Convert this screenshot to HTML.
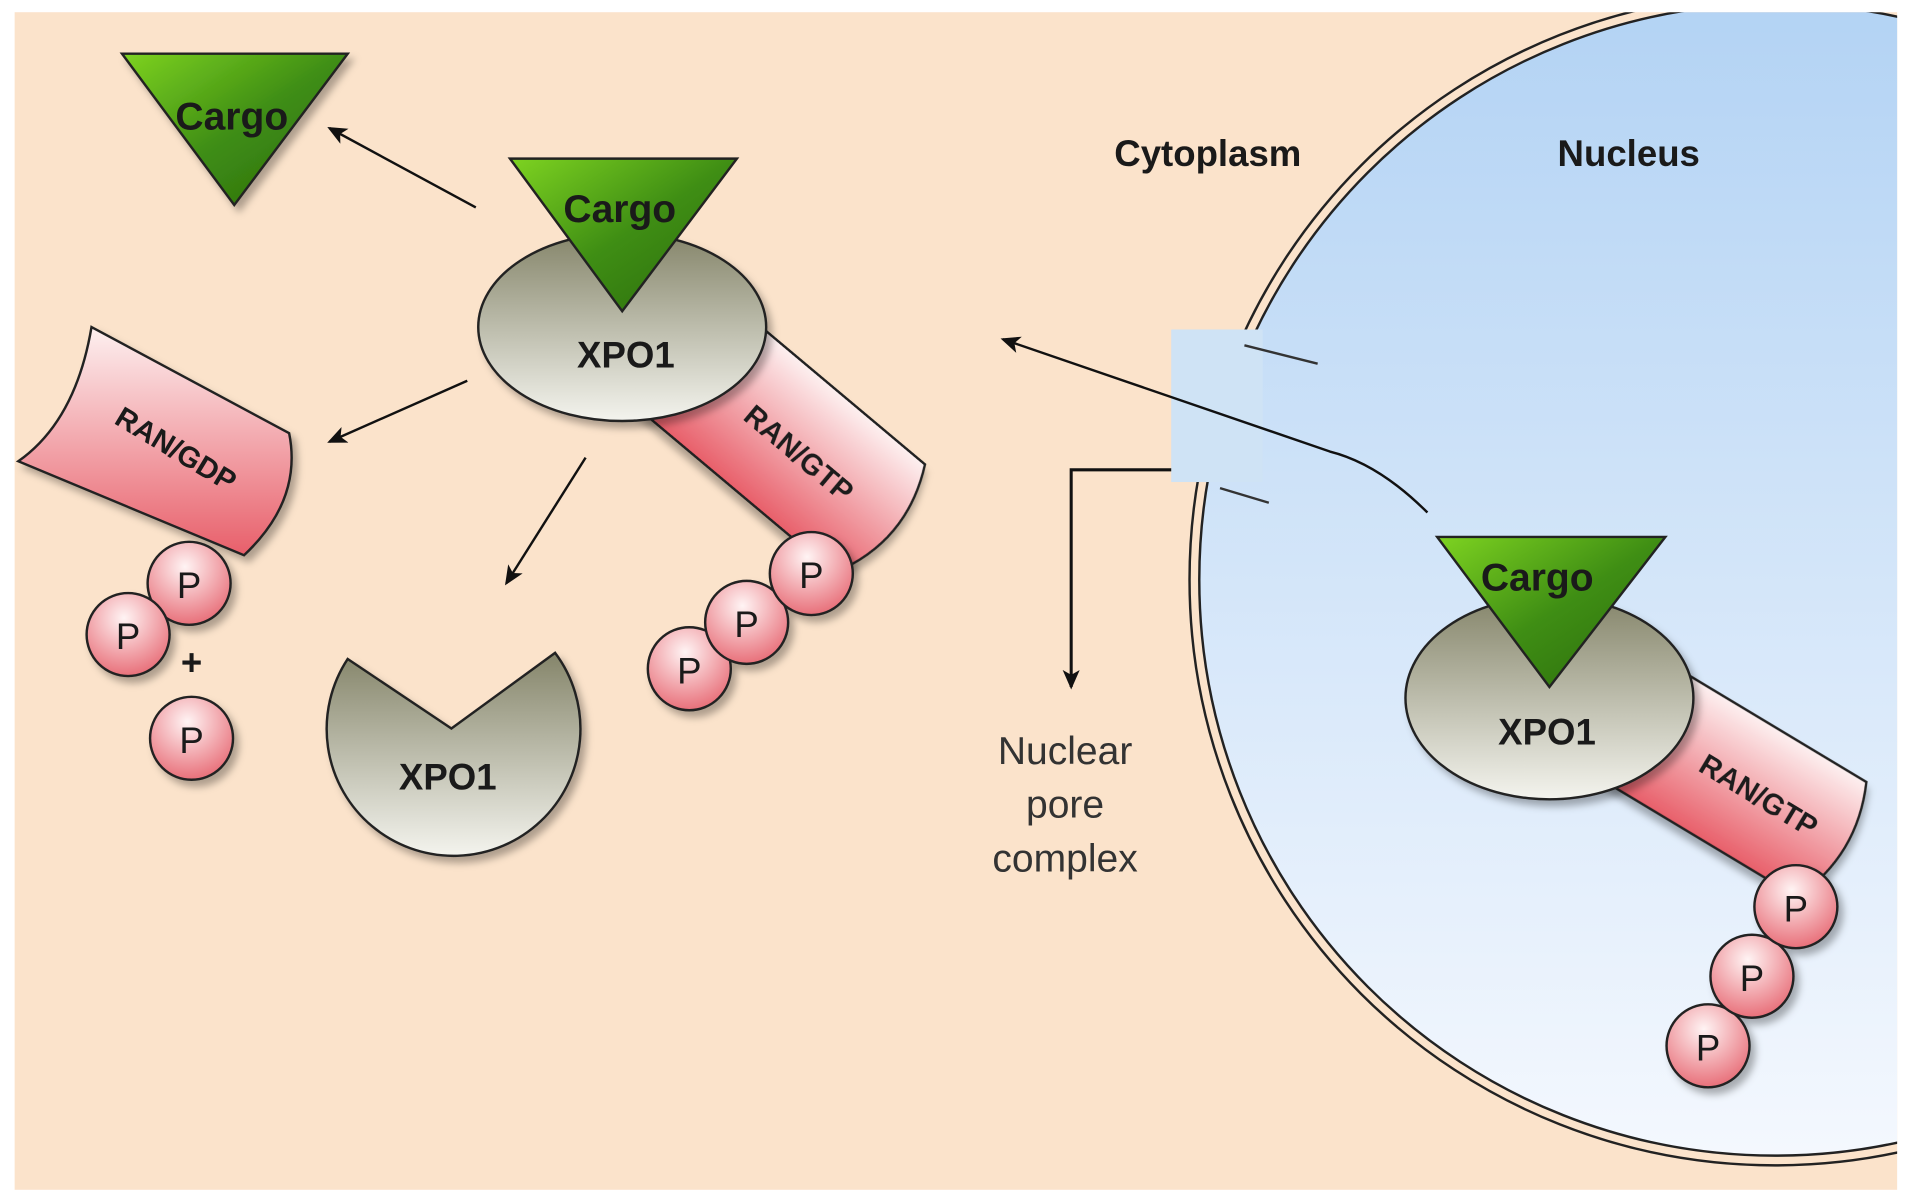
<!DOCTYPE html>
<html><head><meta charset="utf-8"><style>
html,body{margin:0;padding:0;background:#fff;}
svg{display:block;}
text{font-family:"Liberation Sans",sans-serif;font-weight:bold;fill:#1a1a1a;}
</style></head><body>
<svg width="1913" height="1202" viewBox="0 0 1568 985" preserveAspectRatio="none" xmlns="http://www.w3.org/2000/svg">
<defs>
<linearGradient id="grn" x1="0" y1="0" x2="1" y2="1"><stop offset="0" stop-color="#7ed321"/><stop offset="0.5" stop-color="#3f8e14"/><stop offset="1" stop-color="#2a6a0c"/></linearGradient>
<linearGradient id="olv" x1="0" y1="0" x2="0" y2="1"><stop offset="0" stop-color="#85856a"/><stop offset="1" stop-color="#f4f4ee"/></linearGradient>
<linearGradient id="pnk" x1="0" y1="0" x2="0" y2="1"><stop offset="0" stop-color="#fdf0f0"/><stop offset="1" stop-color="#e85f6a"/></linearGradient>
<radialGradient id="pc" cx="0.45" cy="0.3" r="0.7"><stop offset="0" stop-color="#fff4f4"/><stop offset="1" stop-color="#e8707a"/></radialGradient>
<linearGradient id="nuc" x1="0" y1="0" x2="0" y2="1"><stop offset="0" stop-color="#b3d3f4"/><stop offset="1" stop-color="#f4f8fe"/></linearGradient>
<filter id="sh" x="-20%" y="-20%" width="150%" height="150%"><feDropShadow dx="4" dy="5" stdDeviation="3" flood-color="#000" flood-opacity="0.3"/></filter>
<marker id="ar" markerWidth="16" markerHeight="14" refX="14" refY="7" orient="auto" markerUnits="userSpaceOnUse"><path d="M0,0 L16,7 L0,14 L4,7 z" fill="#111"/></marker>
</defs>
<rect x="12" y="10" width="1543" height="965" fill="#fbe3cb"/>
<clipPath id="cl"><rect x="12" y="10" width="1543" height="965"/></clipPath>
<g clip-path="url(#cl)">
<circle cx="1455" cy="475" r="480" fill="none" stroke="#222" stroke-width="2"/>
<circle cx="1455" cy="475" r="472" fill="url(#nuc)" stroke="#222" stroke-width="2"/>
</g>
<rect x="960" y="270" width="75" height="125" fill="#cfe3f5"/>
<line x1="1020" y1="283" x2="1080" y2="298" stroke="#333" stroke-width="2"/>
<line x1="1000" y1="400" x2="1040" y2="412" stroke="#333" stroke-width="2"/>
<text x="990" y="136" font-size="30" text-anchor="middle">Cytoplasm</text>
<text x="1335" y="136" font-size="30" text-anchor="middle">Nucleus</text>
<path d="M1170,420 Q1130,380 1090,370 L822,278" fill="none" stroke="#111" stroke-width="2" marker-end="url(#ar)"/>
<path d="M960,385 L878,385 L878,563" fill="none" stroke="#111" stroke-width="2.5" marker-end="url(#ar)"/>
<text x="873" y="626" font-size="32" text-anchor="middle" style="font-weight:normal;fill:#333">Nuclear</text>
<text x="873" y="670" font-size="32" text-anchor="middle" style="font-weight:normal;fill:#333">pore</text>
<text x="873" y="714" font-size="32" text-anchor="middle" style="font-weight:normal;fill:#333">complex</text>

<line x1="390" y1="170" x2="270" y2="105" stroke="#111" stroke-width="2" marker-end="url(#ar)"/>
<line x1="383" y1="312" x2="270" y2="362" stroke="#111" stroke-width="2" marker-end="url(#ar)"/>
<line x1="480" y1="375" x2="415" y2="478" stroke="#111" stroke-width="2" marker-end="url(#ar)"/>

<path d="M100,44 L285,44 L192,168 Z" fill="url(#grn)" stroke="#222" stroke-width="2" filter="url(#sh)"/>
<text x="190" y="106" font-size="32" text-anchor="middle">Cargo</text>

<g transform="translate(560,290) rotate(40)" filter="url(#sh)">
<path d="M0,-58 L210,-58 Q240,0 210,58 L0,58 Z" fill="url(#pnk)" stroke="#222" stroke-width="2"/>
<text x="125" y="10" font-size="24" text-anchor="middle">RAN/GTP</text>
</g>
<ellipse cx="510" cy="268" rx="118" ry="77" fill="url(#olv)" stroke="#222" stroke-width="2" filter="url(#sh)"/>
<path d="M418,130 L604,130 L510,255 Z" fill="url(#grn)" stroke="#222" stroke-width="2"/>
<text x="508" y="182" font-size="32" text-anchor="middle">Cargo</text>
<text x="513" y="301" font-size="30" text-anchor="middle">XPO1</text>
<g filter="url(#sh)" stroke="#222" stroke-width="2" fill="url(#pc)">
<circle cx="565" cy="548" r="34"/><circle cx="612" cy="510" r="34"/><circle cx="665" cy="470" r="34"/>
</g>
<text x="565" y="560" font-size="30" text-anchor="middle" style="font-weight:normal">P</text>
<text x="612" y="522" font-size="30" text-anchor="middle" style="font-weight:normal">P</text>
<text x="665" y="482" font-size="30" text-anchor="middle" style="font-weight:normal">P</text>

<path d="M75,268 L237,355 Q248,410 200,455 L15,378 Q62,345 75,268 Z" fill="url(#pnk)" stroke="#222" stroke-width="2" filter="url(#sh)"/>
<text x="140" y="375" font-size="24" text-anchor="middle" transform="rotate(31 140 375)">RAN/GDP</text>
<g filter="url(#sh)" stroke="#222" stroke-width="2" fill="url(#pc)">
<circle cx="155" cy="478" r="34"/><circle cx="105" cy="520" r="34"/><circle cx="157" cy="605" r="34"/>
</g>
<text x="155" y="490" font-size="30" text-anchor="middle" style="font-weight:normal">P</text>
<text x="105" y="532" font-size="30" text-anchor="middle" style="font-weight:normal">P</text>
<text x="157" y="617" font-size="30" text-anchor="middle" style="font-weight:normal">P</text>
<text x="157" y="553" font-size="30" text-anchor="middle">+</text>

<path d="M285,540 L370,597 L455,535 A104,104 0 1 1 285,540 Z" fill="url(#olv)" stroke="#222" stroke-width="2" filter="url(#sh)"/>
<text x="367" y="647" font-size="30" text-anchor="middle">XPO1</text>

<g transform="translate(1330,585) rotate(31)" filter="url(#sh)">
<path d="M0,-55 L200,-55 Q225,0 200,55 L0,55 Z" fill="url(#pnk)" stroke="#222" stroke-width="2"/>
<text x="130" y="8" font-size="24" text-anchor="middle">RAN/GTP</text>
</g>
<ellipse cx="1270" cy="572" rx="118" ry="83" fill="url(#olv)" stroke="#222" stroke-width="2" filter="url(#sh)"/>
<path d="M1178,440 L1365,440 L1270,563 Z" fill="url(#grn)" stroke="#222" stroke-width="2"/>
<text x="1260" y="484" font-size="32" text-anchor="middle">Cargo</text>
<text x="1268" y="610" font-size="30" text-anchor="middle">XPO1</text>
<g filter="url(#sh)" stroke="#222" stroke-width="2" fill="url(#pc)">
<circle cx="1400" cy="857" r="34"/><circle cx="1436" cy="800" r="34"/><circle cx="1472" cy="743" r="34"/>
</g>
<text x="1400" y="869" font-size="30" text-anchor="middle" style="font-weight:normal">P</text>
<text x="1436" y="812" font-size="30" text-anchor="middle" style="font-weight:normal">P</text>
<text x="1472" y="755" font-size="30" text-anchor="middle" style="font-weight:normal">P</text>
</svg>
</body></html>
